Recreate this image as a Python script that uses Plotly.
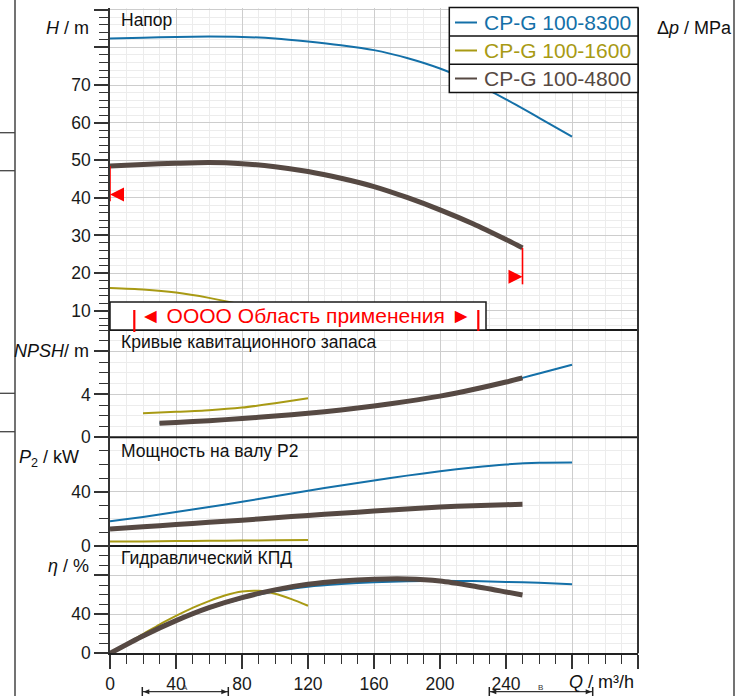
import plotly.graph_objects as go

W, H = 745, 696

# ---------------- data ----------------
series_names = ["CP-G 100-8300", "CP-G 100-1600", "CP-G 100-4800"]
series_colors = ["#1470a8", "#a89a14", "#564943"]

# Head H [m]
q_8300 = [0, 20, 40, 60, 80, 100, 120, 140, 160, 180, 200, 220, 240, 260, 280]
h_8300 = [82.4, 82.6, 82.8, 82.9, 82.8, 82.4, 81.6, 80.6, 79.3, 77.2, 74.4, 70.7, 66.2, 61.3, 56.3]
q_4800 = [0, 20, 40, 60, 80, 100, 120, 140, 160, 180, 200, 220, 240, 250]
h_4800 = [48.5, 48.9, 49.2, 49.4, 49.1, 48.3, 47.0, 45.2, 43.0, 40.1, 36.8, 33.1, 28.9, 26.7]
q_1600 = [0, 20, 40, 60, 80, 100, 120]
h_1600 = [16.0, 15.6, 14.8, 13.4, 11.6, 9.6, 7.4]

# NPSH [m]
npsh_q_8300 = [30, 40, 60, 80, 100, 120, 140, 160, 180, 200, 220, 240, 250, 260, 280]
npsh_8300 = [1.3, 1.38, 1.55, 1.75, 1.98, 2.24, 2.55, 2.92, 3.35, 3.84, 4.45, 5.15, 5.54, 5.95, 6.77]
npsh_q_4800 = [30, 40, 60, 80, 100, 120, 140, 160, 180, 200, 220, 240, 250]
npsh_4800 = [1.3, 1.38, 1.55, 1.75, 1.98, 2.24, 2.55, 2.92, 3.35, 3.84, 4.45, 5.15, 5.54]
npsh_q_1600 = [20, 40, 60, 80, 100, 120]
npsh_1600 = [2.24, 2.37, 2.52, 2.77, 3.17, 3.63]

# Shaft power P2 [kW]
p2_8300 = [18.2, 21.4, 25.0, 28.7, 32.5, 36.6, 40.7, 44.6, 48.2, 51.8, 55.0, 57.8, 60.0, 61.3, 61.5]
p2_4800 = [12.5, 14.1, 15.75, 17.4, 19.0, 20.8, 22.5, 24.1, 25.7, 27.3, 28.7, 29.7, 30.4, 30.75]
p2_1600 = [3.3, 3.4, 3.6, 3.8, 4.0, 4.2, 4.4]

# Hydraulic efficiency eta [%]
eta_8300 = [0, 17.5, 33.0, 46.0, 56.0, 63.5, 68.3, 71.0, 72.8, 73.8, 74.3, 74.0, 73.2, 72.2, 70.7]
eta_4800 = [0, 17.8, 33.5, 46.8, 57.1, 65.0, 70.7, 74.1, 75.9, 76.2, 74.1, 69.0, 62.9, 59.8]
eta_q_1600 = [0, 10, 20, 30, 40, 50, 60, 70, 80, 90, 100, 110, 120]
eta_1600 = [0, 10.0, 19.6, 29.5, 38.3, 46.5, 53.5, 59.5, 63.3, 64.0, 61.0, 55.5, 48.8]

# application range of CP-G 100-4800 (markers on the head curve)
app_q = [0, 250]
app_marker_h = [40.9, 19.0]
app_line_bottom_h = [39.1, 17.0]

# axis ranges / ticks
x_range = [0, 320]
x_tickvals = [0, 40, 80, 120, 160, 200, 240, 280, 320]
x_ticktext = ["0", "40", "80", "120", "160", "200", "240", "", ""]
h_range = [4.85, 90.5]
h_tickvals = [10, 20, 30, 40, 50, 60, 70, 80, 90]
h_ticktext = ["10", "20", "30", "40", "50", "60", "70", "", ""]
MPA_PER_M = 0.00980665
dp_tickvals = [0.1, 0.2, 0.3, 0.4, 0.5, 0.6, 0.7, 0.8]
dp_ticktext = ["0,1", "0,2", "0,3", "0,4", "0,5", "0,6", "0,7", ""]
npsh_range = [0, 10]
npsh_tickvals = [0, 4, 8]
npsh_ticktext = ["0", "4", ""]
p2_range = [0, 80]
p2_tickvals = [0, 40, 80]
p2_ticktext = ["0", "40", ""]
eta_range = [0, 110]
eta_tickvals = [0, 40, 80]
eta_ticktext = ["0", "40", ""]

# ---------------- helpers ----------------
def fx(px):
    return px / W

def fy(py):
    return 1 - py / H

FONT = "Liberation Sans, Arial, sans-serif"
PX0, PX1 = 110, 638
PY = [8, 330, 437.3, 546, 653.3]
GRID_MAJ = "#cdcdcd"
GRID_MIN = "#ececec"
AX = "#333333"

fig = go.Figure()

C_BLUE, C_OLIVE, C_BROWN = series_colors

def add(x, y, color, width, xa, ya):
    fig.add_trace(go.Scatter(x=x, y=y, mode="lines", xaxis=xa, yaxis=ya,
                             line=dict(color=color, width=width, shape="spline", smoothing=0.7),
                             showlegend=False, hoverinfo="skip"))

# Head
add(q_8300, h_8300, C_BLUE, 2, "x2", "y")
add(q_1600, h_1600, C_OLIVE, 2, "x2", "y")
add(q_4800, h_4800, C_BROWN, 5, "x2", "y")
# NPSH
add(npsh_q_8300, npsh_8300, C_BLUE, 2, "x3", "y2")
add(npsh_q_1600, npsh_1600, C_OLIVE, 2, "x3", "y2")
add(npsh_q_4800, npsh_4800, C_BROWN, 5, "x3", "y2")
# P2
add(q_8300, p2_8300, C_BLUE, 2, "x4", "y3")
add(q_1600, p2_1600, C_OLIVE, 2, "x4", "y3")
add(q_4800, p2_4800, C_BROWN, 5, "x4", "y3")
# eta
add(q_8300, eta_8300, C_BLUE, 2, "x", "y4")
add(eta_q_1600, eta_1600, C_OLIVE, 2, "x", "y4")
add(q_4800, eta_4800, C_BROWN, 5, "x", "y4")

tickfont = dict(family=FONT, size=17.5, color="#1a1a1a")

def xaxis_def(anchor, bottom):
    d = dict(domain=[fx(PX0), fx(PX1)], range=x_range, anchor=anchor, automargin=False,
             showgrid=True, gridcolor=GRID_MAJ, gridwidth=1.2, zeroline=False,
             tickmode="array", tickvals=x_tickvals,
             minor=dict(dtick=10, tick0=0, showgrid=True, gridcolor=GRID_MIN, gridwidth=1,
                        ticks="outside" if bottom else "", ticklen=9, tickcolor=AX, tickwidth=1.3))
    if bottom:
        d.update(ticktext=x_ticktext, ticks="outside", ticklen=14, tickwidth=1.5, tickcolor=AX,
                 showline=True, linecolor="#222", linewidth=2, tickfont=tickfont)
    else:
        d.update(showticklabels=False, ticks="", showline=False, matches="x")
    return d

def yaxis_def(dom, rng, tv, tt, minor_dt, anchor):
    return dict(domain=[fy(dom[1]), fy(dom[0])], range=rng, anchor=anchor, automargin=False,
                tickmode="array", tickvals=tv, ticktext=tt,
                ticks="outside", ticklen=14, tickwidth=1.5, tickcolor=AX,
                showline=True, linecolor=AX, linewidth=1.5, zeroline=False,
                showgrid=True, gridcolor=GRID_MAJ, gridwidth=1.2, tickfont=tickfont,
                minor=dict(dtick=minor_dt, tick0=0, ticks="outside", ticklen=9,
                           tickcolor=AX, tickwidth=1.3, showgrid=True,
                           gridcolor=GRID_MIN, gridwidth=1))

fig.update_layout(
    width=W, height=H, margin=dict(l=0, r=0, t=0, b=0, pad=0),
    paper_bgcolor="white", plot_bgcolor="white", showlegend=False,
    separators=", ",
    xaxis=xaxis_def("y4", True),
    xaxis2=xaxis_def("y", False),
    xaxis3=xaxis_def("y2", False),
    xaxis4=xaxis_def("y3", False),
    yaxis=yaxis_def((PY[0], PY[1]), h_range, h_tickvals, h_ticktext, 2, "x2"),
    yaxis2=yaxis_def((PY[1], PY[2]), npsh_range, npsh_tickvals, npsh_ticktext, 1, "x3"),
    yaxis3=yaxis_def((PY[2], PY[3]), p2_range, p2_tickvals, p2_ticktext, 10, "x4"),
    yaxis4=yaxis_def((PY[3], PY[4]), eta_range, eta_tickvals, eta_ticktext, 10, "x"),
    yaxis5=dict(overlaying="y", side="right", anchor="x2", automargin=False,
                range=[h_range[0] * MPA_PER_M, h_range[1] * MPA_PER_M],
                tickmode="array", tickvals=dp_tickvals, ticktext=dp_ticktext,
                ticks="outside", ticklen=14, tickwidth=1.5, tickcolor=AX,
                showline=True, linecolor=AX, linewidth=2, zeroline=False, showgrid=False,
                tickfont=tickfont,
                minor=dict(dtick=0.02, tick0=0, ticks="outside", ticklen=9,
                           tickcolor=AX, tickwidth=1.3, showgrid=False)),
)

shapes = []
def pline(x0, y0, x1, y1, color="#222", width=2):
    shapes.append(dict(type="line", xref="paper", yref="paper",
                       x0=fx(x0), y0=fy(y0), x1=fx(x1), y1=fy(y1),
                       line=dict(color=color, width=width), layer="above"))

# panel separators and right frame
for py in PY[1:4]:
    pline(PX0, py, PX1, py, "#1a1a1a", 2)
pline(PX1, PY[0], PX1, PY[4], "#333", 2)

# application range box (white, covers curves)
shapes.append(dict(type="rect", xref="paper", yref="paper",
                   x0=fx(110), x1=fx(486), y0=fy(330), y1=fy(302),
                   fillcolor="white", line=dict(color="#1a1a1a", width=1.5), layer="above"))
pline(134.3, 310, 134.3, 332, "red", 2.2)
pline(478.3, 310, 478.3, 331, "red", 2.2)

# application range markers on the head curve
for q, top, bot in zip(app_q, [h_4800[0], h_4800[-1]], app_line_bottom_h):
    shapes.append(dict(type="line", xref="x2", yref="y", x0=q, x1=q, y0=top, y1=bot,
                       line=dict(color="red", width=1.6), layer="above"))
shapes.append(dict(type="path", xref="x2", yref="y", xsizemode="pixel", ysizemode="pixel",
                   xanchor=app_q[0], yanchor=app_marker_h[0],
                   path="M0,0 L14,7 L14,-7 Z", fillcolor="red", line=dict(width=0), layer="above"))
shapes.append(dict(type="path", xref="x2", yref="y", xsizemode="pixel", ysizemode="pixel",
                   xanchor=app_q[1], yanchor=app_marker_h[1],
                   path="M0,0 L-14,7 L-14,-7 Z", fillcolor="red", line=dict(width=0), layer="above"))

# legend box
shapes.append(dict(type="rect", xref="paper", yref="paper",
                   x0=fx(449.3), x1=fx(638), y0=fy(92.5), y1=fy(7.5),
                   fillcolor="white", line=dict(color="#111", width=1.5), layer="above"))
pline(449.3, 36, 638, 36, "#111", 1.5)
pline(449.3, 64.3, 638, 64.3, "#111", 1.5)
legend_rows = [22.5, 50.5, 78.5]
for name, col, ry in zip(series_names, series_colors, legend_rows):
    pline(455, ry, 477, ry, col, 2)

# page artifacts (cropped frame lines)
pline(15, 0, 15, 696, "#444", 1.5)
pline(734, 0, 734, 696, "#444", 1.5)
for py in [132.7, 170.7, 393.3, 431.7]:
    pline(0, py, 15, py, "#444", 1.3)
# dimension markers at the bottom
for xa, xb in [(142.3, 228.3), (489.3, 592.7)]:
    pline(xa, 691.7, xb, 691.7, "#333", 1.2)
    pline(xa, 687, xa, 696, "#222", 1.5)
    pline(xb, 687, xb, 696, "#222", 1.5)
    shapes.append(dict(type="path", xref="paper", yref="paper", xsizemode="pixel", ysizemode="pixel",
                       xanchor=fx(xa), yanchor=fy(691.7), path="M1,0 L7,2.5 L7,-2.5 Z",
                       fillcolor="#222", line=dict(width=0), layer="above"))
    shapes.append(dict(type="path", xref="paper", yref="paper", xsizemode="pixel", ysizemode="pixel",
                       xanchor=fx(xb), yanchor=fy(691.7), path="M-1,0 L-7,2.5 L-7,-2.5 Z",
                       fillcolor="#222", line=dict(width=0), layer="above"))

fig.update_layout(shapes=shapes)

ann = []
def text(px, py, s, size=17.5, color="#111", xanchor="left"):
    ann.append(dict(xref="paper", yref="paper", x=fx(px), y=fy(py), text=s, showarrow=False,
                    xanchor=xanchor, yanchor="middle", font=dict(family=FONT, size=size, color=color)))

# panel titles
text(119, 19.5, "Напор")
text(119, 342, "Кривые кавитационного запаса")
text(119, 451, "Мощность на валу P2")
text(119, 558, "Гидравлический КПД")
# axis titles
text(91, 28.5, "<i>H</i> / m", 18, xanchor="right")
text(655, 28.5, "Δ<i>p</i> / MPa", 18)
text(91, 351, "<i>NPSH</i>/ m", 18, xanchor="right")
text(81, 459, "<i>P</i><sub>2</sub> / kW", 18, xanchor="right")
text(91, 566, "<i>η</i> / %", 18, xanchor="right")
text(567, 682, "<i>Q</i> / m³/h", 18)
# application range label
text(306, 315, "◄ OOOO Область применения ►", 21, "red", xanchor="center")
# legend texts
for name, col, ry in zip(series_names, series_colors, legend_rows):
    text(482, ry, name, 21, col)
# dimension letters
text(185, 687, "A", 8, "#333", xanchor="center")
text(540, 687, "B", 8, "#333", xanchor="center")

fig.update_layout(annotations=ann)
fig.write_html("out.html", config={"displayModeBar": False},
               post_script="document.body.style.margin='0';document.body.style.padding='0';")
